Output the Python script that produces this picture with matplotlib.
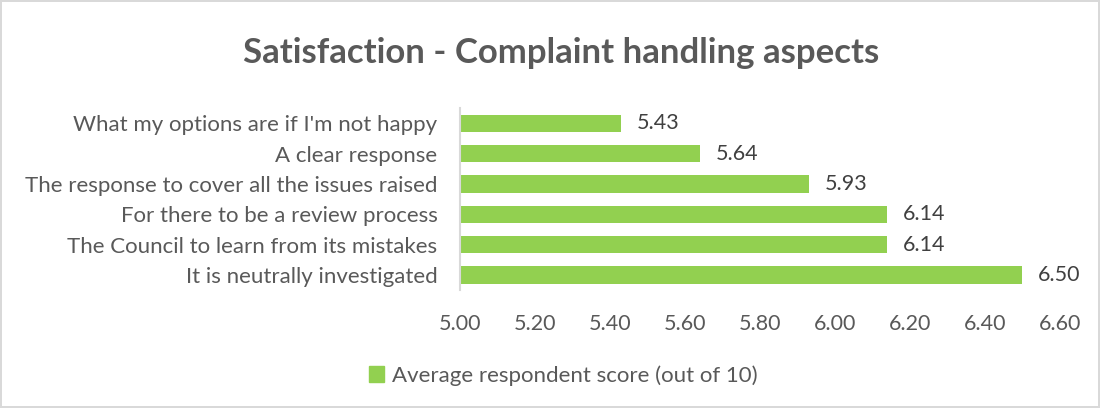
import matplotlib
matplotlib.use("Agg")
import matplotlib.pyplot as plt
from matplotlib.patches import Patch

plt.rcParams.update({
    "font.family": ["Lato", "DejaVu Sans"],
})

categories = [
    "What my options are if I'm not happy",
    "A clear response",
    "The response to cover all the issues raised",
    "For there to be a review process",
    "The Council to learn from its mistakes",
    "It is neutrally investigated",
]
scores = [5.43, 5.64, 5.93, 6.14, 6.14, 6.50]
x_ticks = [5.00, 5.20, 5.40, 5.60, 5.80, 6.00, 6.20, 6.40, 6.60]

BAR_COLOR = "#92D050"
TEXT_COLOR = "#595959"
LABEL_COLOR = "#404040"

fig = plt.figure(figsize=(11, 4.08), dpi=100)
fig.patch.set_edgecolor("#D9D9D9")
fig.patch.set_linewidth(1.5)
ax = fig.add_axes([0.418, 0.289, 0.5455, 0.446])

y = list(range(len(categories)))
ax.barh(y, [s - 5.0 for s in scores], left=5.0, height=0.57, color=BAR_COLOR)
for yi, s in zip(y, scores):
    ax.text(s + 0.042, yi, f"{s:.2f}", va="center", ha="left",
            fontsize=15.5, color=LABEL_COLOR)

ax.set_xlim(5.0, 6.6)
ax.set_ylim(len(categories) - 0.5, -0.5)
ax.set_xticks(x_ticks)
ax.set_xticklabels([f"{t:.2f}" for t in x_ticks])
ax.set_yticks(y)
ax.set_yticklabels(categories)
ax.tick_params(axis="both", length=0, labelsize=15.5, labelcolor=TEXT_COLOR)
ax.tick_params(axis="y", labelsize=16, pad=16)
ax.tick_params(axis="x", pad=17)
for side in ["top", "right", "bottom"]:
    ax.spines[side].set_visible(False)
ax.spines["left"].set_color("#D9D9D9")
ax.spines["left"].set_linewidth(1.5)

fig.text(0.51, 0.87, "Satisfaction - Complaint handling aspects",
         ha="center", va="center", fontsize=25, fontweight="bold", color=TEXT_COLOR)

fig.legend(handles=[Patch(color=BAR_COLOR, label="Average respondent score (out of 10)")],
           loc="center", bbox_to_anchor=(0.512, 0.08), frameon=False,
           fontsize=16, handlelength=0.7, handleheight=0.7, handletextpad=0.35,
           labelcolor=TEXT_COLOR)

fig.savefig("out.png", dpi=100)
